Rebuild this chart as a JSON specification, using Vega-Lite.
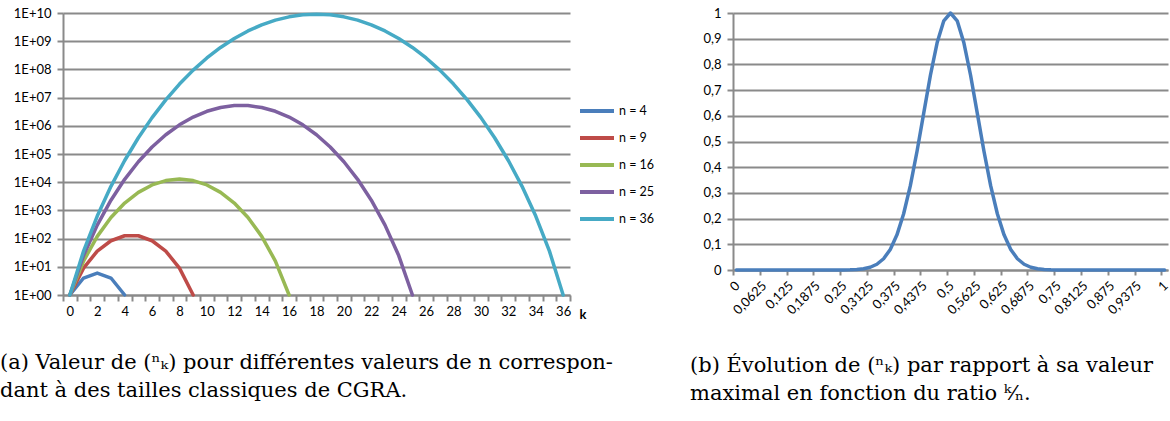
{
  "$schema": "https://vega.github.io/schema/vega-lite/v6.json",
  "padding": {"left": 0, "top": 7, "right": 0, "bottom": 0},
  "background": "white",
  "datasets": {
    "binom": [
      {"serie": "n = 4", "k": 0, "v": 1}, {"serie": "n = 4", "k": 1, "v": 4}, {"serie": "n = 4", "k": 2, "v": 6}, {"serie": "n = 4", "k": 3, "v": 4}, {"serie": "n = 4", "k": 4, "v": 1},
      {"serie": "n = 9", "k": 0, "v": 1}, {"serie": "n = 9", "k": 1, "v": 9}, {"serie": "n = 9", "k": 2, "v": 36}, {"serie": "n = 9", "k": 3, "v": 84}, {"serie": "n = 9", "k": 4, "v": 126}, {"serie": "n = 9", "k": 5, "v": 126}, {"serie": "n = 9", "k": 6, "v": 84}, {"serie": "n = 9", "k": 7, "v": 36}, {"serie": "n = 9", "k": 8, "v": 9}, {"serie": "n = 9", "k": 9, "v": 1},
      {"serie": "n = 16", "k": 0, "v": 1}, {"serie": "n = 16", "k": 1, "v": 16}, {"serie": "n = 16", "k": 2, "v": 120}, {"serie": "n = 16", "k": 3, "v": 560}, {"serie": "n = 16", "k": 4, "v": 1820}, {"serie": "n = 16", "k": 5, "v": 4368}, {"serie": "n = 16", "k": 6, "v": 8008}, {"serie": "n = 16", "k": 7, "v": 11440}, {"serie": "n = 16", "k": 8, "v": 12870}, {"serie": "n = 16", "k": 9, "v": 11440}, {"serie": "n = 16", "k": 10, "v": 8008}, {"serie": "n = 16", "k": 11, "v": 4368}, {"serie": "n = 16", "k": 12, "v": 1820}, {"serie": "n = 16", "k": 13, "v": 560}, {"serie": "n = 16", "k": 14, "v": 120}, {"serie": "n = 16", "k": 15, "v": 16}, {"serie": "n = 16", "k": 16, "v": 1},
      {"serie": "n = 25", "k": 0, "v": 1}, {"serie": "n = 25", "k": 1, "v": 25}, {"serie": "n = 25", "k": 2, "v": 300}, {"serie": "n = 25", "k": 3, "v": 2300}, {"serie": "n = 25", "k": 4, "v": 12650}, {"serie": "n = 25", "k": 5, "v": 53130}, {"serie": "n = 25", "k": 6, "v": 177100}, {"serie": "n = 25", "k": 7, "v": 480700}, {"serie": "n = 25", "k": 8, "v": 1081575}, {"serie": "n = 25", "k": 9, "v": 2042975}, {"serie": "n = 25", "k": 10, "v": 3268760}, {"serie": "n = 25", "k": 11, "v": 4457400}, {"serie": "n = 25", "k": 12, "v": 5200300}, {"serie": "n = 25", "k": 13, "v": 5200300}, {"serie": "n = 25", "k": 14, "v": 4457400}, {"serie": "n = 25", "k": 15, "v": 3268760}, {"serie": "n = 25", "k": 16, "v": 2042975}, {"serie": "n = 25", "k": 17, "v": 1081575}, {"serie": "n = 25", "k": 18, "v": 480700}, {"serie": "n = 25", "k": 19, "v": 177100}, {"serie": "n = 25", "k": 20, "v": 53130}, {"serie": "n = 25", "k": 21, "v": 12650}, {"serie": "n = 25", "k": 22, "v": 2300}, {"serie": "n = 25", "k": 23, "v": 300}, {"serie": "n = 25", "k": 24, "v": 25}, {"serie": "n = 25", "k": 25, "v": 1},
      {"serie": "n = 36", "k": 0, "v": 1}, {"serie": "n = 36", "k": 1, "v": 36}, {"serie": "n = 36", "k": 2, "v": 630}, {"serie": "n = 36", "k": 3, "v": 7140}, {"serie": "n = 36", "k": 4, "v": 58905}, {"serie": "n = 36", "k": 5, "v": 376992}, {"serie": "n = 36", "k": 6, "v": 1947792}, {"serie": "n = 36", "k": 7, "v": 8347680}, {"serie": "n = 36", "k": 8, "v": 30260340}, {"serie": "n = 36", "k": 9, "v": 94143280}, {"serie": "n = 36", "k": 10, "v": 254186856}, {"serie": "n = 36", "k": 11, "v": 600805296}, {"serie": "n = 36", "k": 12, "v": 1251677700}, {"serie": "n = 36", "k": 13, "v": 2310789600}, {"serie": "n = 36", "k": 14, "v": 3796297200}, {"serie": "n = 36", "k": 15, "v": 5567902560}, {"serie": "n = 36", "k": 16, "v": 7307872110}, {"serie": "n = 36", "k": 17, "v": 8597496600}, {"serie": "n = 36", "k": 18, "v": 9075135300}, {"serie": "n = 36", "k": 19, "v": 8597496600}, {"serie": "n = 36", "k": 20, "v": 7307872110}, {"serie": "n = 36", "k": 21, "v": 5567902560}, {"serie": "n = 36", "k": 22, "v": 3796297200}, {"serie": "n = 36", "k": 23, "v": 2310789600}, {"serie": "n = 36", "k": 24, "v": 1251677700}, {"serie": "n = 36", "k": 25, "v": 600805296}, {"serie": "n = 36", "k": 26, "v": 254186856}, {"serie": "n = 36", "k": 27, "v": 94143280}, {"serie": "n = 36", "k": 28, "v": 30260340}, {"serie": "n = 36", "k": 29, "v": 8347680}, {"serie": "n = 36", "k": 30, "v": 1947792}, {"serie": "n = 36", "k": 31, "v": 376992}, {"serie": "n = 36", "k": 32, "v": 58905}, {"serie": "n = 36", "k": 33, "v": 7140}, {"serie": "n = 36", "k": 34, "v": 630}, {"serie": "n = 36", "k": 35, "v": 36}, {"serie": "n = 36", "k": 36, "v": 1}
    ],
    "ratio": [
      {"k": 0, "v": 0}, {"k": 1, "v": 0}, {"k": 2, "v": 0}, {"k": 3, "v": 0}, {"k": 4, "v": 0}, {"k": 5, "v": 0}, {"k": 6, "v": 0}, {"k": 7, "v": 0}, {"k": 8, "v": 0}, {"k": 9, "v": 0.00000001}, {"k": 10, "v": 0.00000008}, {"k": 11, "v": 0.0000004}, {"k": 12, "v": 0.0000018}, {"k": 13, "v": 0.0000072}, {"k": 14, "v": 0.0000261}, {"k": 15, "v": 0.0000871}, {"k": 16, "v": 0.000267}, {"k": 17, "v": 0.000753}, {"k": 18, "v": 0.001965}, {"k": 19, "v": 0.004758}, {"k": 20, "v": 0.010706}, {"k": 21, "v": 0.022431}, {"k": 22, "v": 0.043843}, {"k": 23, "v": 0.080061}, {"k": 24, "v": 0.136771}, {"k": 25, "v": 0.218833}, {"k": 26, "v": 0.328249}, {"k": 27, "v": 0.46198}, {"k": 28, "v": 0.610474}, {"k": 29, "v": 0.75783}, {"k": 30, "v": 0.884135}, {"k": 31, "v": 0.969697}, {"k": 32, "v": 1},
      {"k": 33, "v": 0.969697}, {"k": 34, "v": 0.884135}, {"k": 35, "v": 0.75783}, {"k": 36, "v": 0.610474}, {"k": 37, "v": 0.46198}, {"k": 38, "v": 0.328249}, {"k": 39, "v": 0.218833}, {"k": 40, "v": 0.136771}, {"k": 41, "v": 0.080061}, {"k": 42, "v": 0.043843}, {"k": 43, "v": 0.022431}, {"k": 44, "v": 0.010706}, {"k": 45, "v": 0.004758}, {"k": 46, "v": 0.001965}, {"k": 47, "v": 0.000753}, {"k": 48, "v": 0.000267}, {"k": 49, "v": 0.0000871}, {"k": 50, "v": 0.0000261}, {"k": 51, "v": 0.0000072}, {"k": 52, "v": 0.0000018}, {"k": 53, "v": 0.0000004}, {"k": 54, "v": 0.00000008}, {"k": 55, "v": 0.00000001}, {"k": 56, "v": 0}, {"k": 57, "v": 0}, {"k": 58, "v": 0}, {"k": 59, "v": 0}, {"k": 60, "v": 0}, {"k": 61, "v": 0}, {"k": 62, "v": 0}, {"k": 63, "v": 0}, {"k": 64, "v": 0}
    ]
  },
  "bounds": "flush",
  "spacing": 163,
  "hconcat": [
    {
      "width": 507,
      "height": 282,
      "data": {"name": "binom"},
      "mark": {"type": "line", "strokeWidth": 3.5, "strokeCap": "round", "strokeJoin": "round", "clip": false},
      "title": {
        "text": ["(a) Valeur de (ⁿₖ) pour différentes valeurs de n correspon-", "dant à des tailles classiques de CGRA."],
        "orient": "bottom", "anchor": "start", "frame": "bounds", "baseline": "top", "offset": 31
      },
      "encoding": {
        "x": {
          "field": "k", "type": "quantitative",
          "scale": {"domain": [-0.5, 36.5], "nice": false, "zero": false},
          "axis": {
            "values": [-0.5, 0.5, 1.5, 2.5, 3.5, 4.5, 5.5, 6.5, 7.5, 8.5, 9.5, 10.5, 11.5, 12.5, 13.5, 14.5, 15.5, 16.5, 17.5, 18.5, 19.5, 20.5, 21.5, 22.5, 23.5, 24.5, 25.5, 26.5, 27.5, 28.5, 29.5, 30.5, 31.5, 32.5, 33.5, 34.5, 35.5, 36.5],
            "labelExpr": "((datum.value + 0.5) % 2 == 0) ? format(datum.value + 0.5, 'd') : ''",
            "labelOffset": 6.85,
            "labelOverlap": false,
            "labelFlush": false,
            "grid": false,
            "tickSize": 6,
            "labelPadding": 4,
            "title": "k",
            "titleFont": "Lato",
            "titleFontSize": 13,
            "titleFontWeight": "bold",
            "titleAlign": "left",
            "titleBaseline": "middle",
            "titleX": 516,
            "titleY": 19
          }
        },
        "y": {
          "field": "v", "type": "quantitative",
          "scale": {"type": "log", "domain": [1, 10000000000], "nice": false},
          "axis": {
            "values": [1, 10, 100, 1000, 10000, 100000, 1000000, 10000000, 100000000, 1000000000, 10000000000],
            "labelExpr": "'1E+' + (round(log(datum.value) / LN10) < 10 ? '0' : '') + round(log(datum.value) / LN10)",
            "grid": true,
            "tickSize": 6,
            "labelPadding": 6,
            "minExtent": 63,
            "title": null
          }
        },
        "color": {
          "field": "serie", "type": "nominal",
          "scale": {"domain": ["n = 4", "n = 9", "n = 16", "n = 25", "n = 36"], "range": ["#4a7ebb", "#be4b48", "#98b954", "#7d60a0", "#46aac5"]},
          "legend": {
            "orient": "none", "legendX": 515, "legendY": 79,
            "title": null,
            "symbolType": "stroke", "symbolSize": 1156, "symbolStrokeWidth": 4,
            "labelFont": "Lato", "labelFontSize": 12.5, "labelColor": "#000", "labelOffset": 3,
            "rowPadding": -2.5
          }
        }
      }
    },
    {
      "width": 435,
      "height": 257,
      "data": {"name": "ratio"},
      "mark": {"type": "line", "strokeWidth": 3.5, "color": "#4a7ebb", "strokeCap": "round", "strokeJoin": "round"},
      "title": {
        "text": ["(b) Évolution de (ⁿₖ) par rapport à sa valeur", "maximal en fonction du ratio ᵏ⁄ₙ."],
        "orient": "bottom", "anchor": "start", "frame": "bounds", "baseline": "top", "offset": 38, "dx": -3
      },
      "encoding": {
        "x": {
          "field": "k", "type": "quantitative",
          "scale": {"domain": [-0.5, 64.5], "nice": false, "zero": false},
          "axis": {
            "values": [-0.5, 3.5, 7.5, 11.5, 15.5, 19.5, 23.5, 27.5, 31.5, 35.5, 39.5, 43.5, 47.5, 51.5, 55.5, 59.5, 63.5],
            "labelExpr": "replace(format((datum.value + 0.5) / 64, '.4~f'), '.', ',')",
            "labelAngle": -45,
            "labelOverlap": false,
            "labelFlush": false,
            "grid": false,
            "tickSize": 5,
            "labelPadding": 4,
            "title": null
          }
        },
        "y": {
          "field": "v", "type": "quantitative",
          "scale": {"domain": [0, 1], "nice": false},
          "axis": {
            "values": [0, 0.1, 0.2, 0.3, 0.4, 0.5, 0.6, 0.7, 0.8, 0.9, 1],
            "labelExpr": "replace(format(datum.value, '.1~f'), '.', ',')",
            "grid": true,
            "tickSize": 6,
            "labelPadding": 6,
            "minExtent": 40,
            "title": null
          }
        }
      }
    }
  ],
  "config": {
    "view": {"stroke": null},
    "axis": {
      "labelFont": "Lato", "labelFontSize": 13, "labelColor": "#000",
      "domainColor": "#8a8a8a", "domainWidth": 2,
      "tickColor": "#8a8a8a", "tickWidth": 2,
      "gridColor": "#8a8a8a", "gridWidth": 2
    },
    "title": {"font": "DejaVu Serif", "fontSize": 21, "fontWeight": "normal", "color": "#000", "lineHeight": 28}
  }
}
